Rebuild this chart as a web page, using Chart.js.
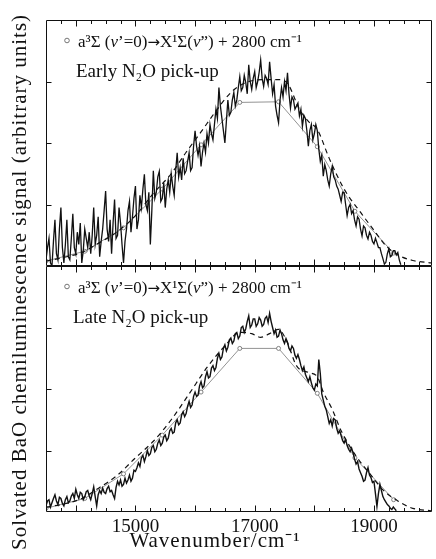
<!DOCTYPE html>
<html><head><meta charset="utf-8">
<script src="https://cdn.jsdelivr.net/npm/chart.js@4/dist/chart.umd.min.js"></script>
<style>html,body{margin:0;padding:0;background:#fff;}#wrap{position:relative;width:436px;height:559px;}canvas{display:block;}</style>
</head><body><div id="wrap"><canvas id="c" width="436" height="559"></canvas></div>
<script>
// ---- data ----
const wavenumbers = [
13500,13525,13550,13575,13600,13625,13650,13675,13700,13725,13750,13775,13800,13825,13850,13875,13900,13925,13950,13975,
14000,14025,14050,14075,14100,14125,14150,14175,14200,14225,14250,14275,14300,14325,14350,14375,14400,14425,14450,14475,
14500,14525,14550,14575,14600,14625,14650,14675,14700,14725,14750,14775,14800,14825,14850,14875,14900,14925,14950,14975,
15000,15025,15050,15075,15100,15125,15150,15175,15200,15225,15250,15275,15300,15325,15350,15375,15400,15425,15450,15475,
15500,15525,15550,15575,15600,15625,15650,15675,15700,15725,15750,15775,15800,15825,15850,15875,15900,15925,15950,15975,
16000,16025,16050,16075,16100,16125,16150,16175,16200,16225,16250,16275,16300,16325,16350,16375,16400,16425,16450,16475,
16500,16525,16550,16575,16600,16625,16650,16675,16700,16725,16750,16775,16800,16825,16850,16875,16900,16925,16950,16975,
17000,17025,17050,17075,17100,17125,17150,17175,17200,17225,17250,17275,17300,17325,17350,17375,17400,17425,17450,17475,
17500,17525,17550,17575,17600,17625,17650,17675,17700,17725,17750,17775,17800,17825,17850,17875,17900,17925,17950,17975,
18000,18025,18050,18075,18100,18125,18150,18175,18200,18225,18250,18275,18300,18325,18350,18375,18400,18425,18450,18475,
18500,18525,18550,18575,18600,18625,18650,18675,18700,18725,18750,18775,18800,18825,18850,18875,18900,18925,18950,18975,
19000,19025,19050,19075,19100,19125,19150,19175,19200,19225,19250,19275,19300,19325,19350,19375,19400,19425,19450];

const earlySignal = [
0.10,0.30,0.45,0.05,0.00,0.40,0.75,0.20,0.10,0.60,0.95,0.30,0.05,0.35,0.75,0.15,0.10,0.45,0.85,0.30,
0.20,0.55,0.35,0.70,0.05,0.25,0.60,0.45,0.30,0.55,0.20,0.50,0.95,0.35,0.50,0.80,0.15,0.40,0.60,0.90,
1.22,0.60,0.40,0.75,0.20,0.70,1.08,0.45,0.50,0.95,0.70,0.35,0.05,0.40,0.60,0.90,1.05,0.55,0.80,1.10,
1.30,0.60,0.75,1.15,0.95,1.25,1.49,1.00,0.90,1.20,0.35,0.90,1.55,1.10,1.20,1.45,1.54,1.05,1.10,1.35,
0.95,1.25,1.40,1.20,1.50,1.30,1.15,1.55,1.84,1.45,1.60,1.40,1.75,1.50,1.55,1.70,1.84,1.55,1.60,1.95,
2.20,1.95,1.80,1.95,1.62,1.85,2.00,1.85,2.15,2.00,2.30,2.15,2.05,2.30,2.55,2.40,2.90,2.60,2.40,2.20,
2.00,2.35,2.70,2.45,2.50,2.70,2.82,2.60,2.70,2.90,3.08,2.85,2.90,3.10,2.98,2.80,3.27,3.00,2.87,3.05,
3.16,2.90,3.00,3.15,3.35,3.05,2.92,3.10,3.05,2.95,3.32,3.05,2.80,2.95,2.60,2.45,2.33,2.70,2.90,2.75,
3.00,2.85,3.14,2.80,2.57,2.75,2.70,2.55,2.60,2.65,2.44,2.55,2.27,2.45,2.40,2.20,1.95,2.20,2.30,2.05,
2.15,2.30,2.20,1.90,1.70,1.80,1.46,1.65,1.55,1.40,1.30,1.50,1.62,1.45,1.40,1.30,1.25,1.15,1.05,1.20,
1.19,1.00,0.82,0.95,1.00,0.85,0.90,0.75,0.65,0.80,0.76,0.60,0.49,0.65,0.62,0.50,0.44,0.55,0.50,0.40,
0.36,0.45,0.38,0.30,0.30,0.20,0.12,0.03,0.06,0.20,0.28,0.15,0.17,0.25,0.25,0.18,0.22,0.10,0.02];

const lateSignal = [
0.10,0.18,0.20,0.08,0.15,0.22,0.28,0.18,0.12,0.24,0.22,0.14,0.10,0.20,0.25,0.15,0.18,0.26,0.30,0.22,
0.37,0.28,0.22,0.32,0.30,0.20,0.25,0.33,0.35,0.26,0.20,0.30,0.41,0.25,0.10,0.28,0.35,0.30,0.39,0.32,
0.30,0.38,0.42,0.33,0.35,0.28,0.22,0.40,0.50,0.44,0.52,0.42,0.45,0.55,0.47,0.52,0.60,0.50,0.55,0.68,
0.66,0.72,0.80,0.74,0.88,0.92,0.82,0.90,1.00,0.92,0.95,1.05,1.08,0.98,1.02,1.12,1.17,1.08,1.12,1.22,
1.25,1.16,1.20,1.32,1.36,1.28,1.30,1.45,1.50,1.42,1.45,1.58,1.63,1.55,1.60,1.72,1.80,1.70,1.74,1.88,
1.95,1.88,1.90,2.05,2.12,2.02,2.05,2.20,2.28,2.18,2.20,2.34,2.38,2.30,2.35,2.50,2.58,2.48,2.52,2.66,
2.72,2.62,2.68,2.80,2.83,2.74,2.78,2.90,2.92,2.82,2.86,3.00,3.02,2.92,2.98,3.10,3.19,3.00,3.04,3.14,
3.14,3.02,3.06,3.16,3.12,3.02,3.05,3.15,3.18,3.08,3.23,3.10,3.00,2.90,2.96,2.84,2.86,2.96,2.90,2.80,
2.74,2.82,2.76,2.66,2.62,2.70,2.66,2.55,2.50,2.56,2.48,2.38,2.30,2.36,2.24,2.18,2.12,2.20,2.10,2.02,
1.98,2.08,2.05,2.48,2.25,1.92,1.82,1.72,1.66,1.55,1.44,1.50,1.40,1.52,1.50,1.36,1.28,1.32,1.24,1.16,
1.12,1.18,1.08,1.02,0.98,1.04,0.96,0.86,0.78,0.82,0.70,0.64,0.58,0.50,0.52,0.64,0.72,0.60,0.56,0.48,
0.50,0.30,0.09,0.30,0.45,0.35,0.25,0.20,0.16,0.12,0.10,0.06,0.04,0.08,0.05,0.02,null,null,null];

const earlySimX = [13500,13800,14100,14400,14700,15000,15300,15600,15850,16100,16350,16600,16800,17000,17200,17400,17550,17750,17900,18050,18250,18500,18800,19000,19200,19400,19650,19960];
const earlySim  = [0.08,0.14,0.22,0.38,0.56,0.82,1.18,1.50,1.85,2.18,2.52,2.82,2.96,3.02,3.03,3.03,2.97,2.55,2.35,2.22,1.75,1.25,0.84,0.58,0.33,0.18,0.09,0.05];

const lateSimX = [13500,13800,14100,14400,14700,15000,15300,15600,15900,16200,16500,16750,16950,17100,17250,17400,17550,17700,17900,18050,18150,18300,18450,18700,18950,19150,19400,19650,19960];
const lateSim  = [0.08,0.13,0.22,0.40,0.60,0.88,1.15,1.50,1.92,2.35,2.70,2.92,2.90,2.84,2.90,2.97,2.75,2.38,2.27,2.20,1.95,1.67,1.32,0.91,0.60,0.36,0.18,0.06,0.02];

const a3LevelsX = [13500,14150,14800,15450,16100,16750,17400,18050,18680,19330];
const earlyA3   = [0.08,0.24,0.62,1.25,1.97,2.66,2.67,1.94,0.89,0.21];
const lateA3    = [0.06,0.22,0.62,1.25,1.95,2.66,2.66,1.93,0.88,0.20];

const xTickLabels = [15000, 17000, 19000];
const yTickValues = [1, 2, 3];
const panelLabels = ['Early N\u2082O pick-up', 'Late N\u2082O pick-up'];
// [text, style] : 'n' normal, 'i' italic, 'a' arrow glyph
const legendParts = [['a\u00B3\u03A3 (','n'],['v','i'],['\u2019=0)','n'],['\u2192','a'],['X\u00B9\u03A3(','n'],['v','i'],['\u201D) + 2800 cm\u207B\u00B9','n']];
const xTitle = 'Wavenumber/cm\u207B\u00B9';
const yTitle = 'Solvated BaO chemiluminescence signal (arbitrary units)';

// ---- drawing ----
const SERIF = "'Liberation Serif','Times New Roman',serif";
function pts(xs, ys){ return xs.map((x,i)=>({x:x, y:ys[i]})); }

const framePlugin = {
  id:'frame',
  afterDraw(chart){
    const {ctx, chartArea:a, scales} = chart;
    const xs = scales.x;
    const panels = [scales.yTop, scales.yBot];
    ctx.save();
    ctx.strokeStyle = '#111'; ctx.lineWidth = 1;
    const L = Math.round(a.left)+0.5, R = Math.round(a.right)+0.5;
    panels.forEach(ys => {
      const T = Math.round(ys.top)+0.5, B = Math.round(ys.bottom)-0.5;
      ctx.beginPath();
      ctx.moveTo(L,T); ctx.lineTo(R,T); ctx.lineTo(R,B); ctx.lineTo(L,B); ctx.closePath();
      ctx.stroke();
      ctx.beginPath();
      for (let v = xs.min - (xs.min % 250) + 250; v < xs.max; v += 250) {
        const px = Math.round(xs.getPixelForValue(v))+0.5;
        const len = (v % 1000 === 0) ? 6 : 3.5;
        ctx.moveTo(px,T); ctx.lineTo(px,T+len);
        ctx.moveTo(px,B); ctx.lineTo(px,B-len);
      }
      yTickValues.forEach(v => {
        const py = Math.round(ys.getPixelForValue(v))+0.5;
        ctx.moveTo(L,py); ctx.lineTo(L+5,py);
        ctx.moveTo(R,py); ctx.lineTo(R-5,py);
      });
      ctx.stroke();
    });
    // in-panel legends and labels
    ctx.fillStyle = '#111';
    ctx.textAlign = 'left'; ctx.textBaseline = 'alphabetic';
    panels.forEach((ys, i) => {
      const top = ys.top;
      ctx.beginPath(); ctx.strokeStyle = '#666'; ctx.lineWidth = 0.9;
      ctx.arc(67, top + 20.5, 2.3, 0, Math.PI*2); ctx.stroke();
      let x = 78;
      legendParts.forEach(([t, st]) => {
        if (st === 'a') ctx.font = "15px 'DejaVu Sans',sans-serif";
        else ctx.font = (st === 'i' ? 'italic ' : '') + '17px ' + SERIF;
        ctx.fillText(t, x, top + 26.5);
        x += ctx.measureText(t).width;
      });
      ctx.font = '19px ' + SERIF;
      ctx.fillText(panelLabels[i], i === 0 ? 76 : 73, top + 56.5);
    });
    // axis titles
    ctx.font = '21px ' + SERIF;
    ctx.letterSpacing = '1px';
    ctx.textAlign = 'center';
    ctx.fillText(xTitle, 215, 547);
    ctx.translate(20, 282); ctx.rotate(-Math.PI/2);
    ctx.textBaseline = 'middle';
    ctx.fillText(yTitle, 0, 0);
    ctx.restore();
  }
};

const yAxis = () => ({
  type:'linear', position:'left', stack:'panels', stackWeight:1, min:0, max:4,
  grid:{display:false}, border:{display:false}, ticks:{display:false},
  afterFit: s => { s.width = 0; }
});

new Chart(document.getElementById('c'), {
  type:'line',
  data:{ datasets:[
    {label:'Early N2O signal', data:pts(wavenumbers, earlySignal), yAxisID:'yTop', borderColor:'#111', borderWidth:1.3, pointRadius:0, tension:0},
    {label:'Early simulation', data:pts(earlySimX, earlySim), yAxisID:'yTop', borderColor:'#111', borderWidth:1.2, borderDash:[5,4], pointRadius:0, cubicInterpolationMode:'monotone'},
    {label:'Early a3', data:pts(a3LevelsX, earlyA3), yAxisID:'yTop', borderColor:'#777', borderWidth:0.8, pointRadius:2, pointBackgroundColor:'#fff', pointBorderColor:'#666', pointBorderWidth:0.8, tension:0},
    {label:'Late N2O signal', data:pts(wavenumbers, lateSignal), yAxisID:'yBot', borderColor:'#111', borderWidth:1.4, pointRadius:0, tension:0, spanGaps:false},
    {label:'Late simulation', data:pts(lateSimX, lateSim), yAxisID:'yBot', borderColor:'#111', borderWidth:1.2, borderDash:[5,4], pointRadius:0, cubicInterpolationMode:'monotone'},
    {label:'Late a3', data:pts(a3LevelsX, lateA3), yAxisID:'yBot', borderColor:'#777', borderWidth:0.8, pointRadius:2, pointBackgroundColor:'#fff', pointBorderColor:'#666', pointBorderWidth:0.8, tension:0}
  ]},
  options:{
    responsive:false, animation:false, devicePixelRatio:1,
    layout:{padding:{left:46, right:0, top:20, bottom:0}},
    plugins:{legend:{display:false}, tooltip:{enabled:false}},
    scales:{
      x:{type:'linear', min:13500, max:19960, grid:{display:false}, border:{display:false},
         afterBuildTicks: s => { s.ticks = xTickLabels.map(v => ({value:v})); },
         afterFit: s => { s.height = 47; },
         ticks:{color:'#111', font:{family:SERIF, size:19, lineHeight:1}, padding:-2, autoSkip:false, maxRotation:0, callback: v => String(v)}},
      yBot: yAxis(),
      yTop: yAxis()
    }
  },
  plugins:[framePlugin]
});
</script></body></html>
